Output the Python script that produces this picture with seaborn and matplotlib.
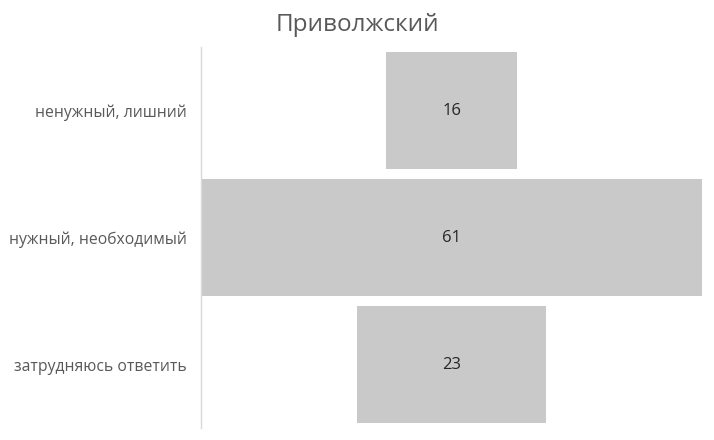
import pandas as pd
import matplotlib.pyplot as plt
import seaborn as sns

# DATA

categories = ["ненужный, лишний", "нужный, необходимый", "затрудняюсь ответить"]
values = [16, 61, 23]
title = "Приволжский"

# CENTERED BARS (funnel style)

total = max(values)
offsets = [(total - v) / 2 for v in values]

df = pd.DataFrame({
    "Category": categories,
    "Value": values
})

sns.set_theme(style="white")
plt.rcParams["font.family"] = ["Open Sans", "DejaVu Sans"]

fig = plt.figure(figsize=(7.14, 4.40), dpi=100)
ax = fig.add_axes([0.2815, 0.027, 0.702, 0.866])

sns.barplot(
    data=df,
    x="Value",
    y="Category",
    orient="y",
    order=categories,
    color="#c9c9c9",
    saturation=1,
    width=0.925,
    left=offsets,
    linewidth=0,
    ax=ax
)

for i, (v, off) in enumerate(zip(values, offsets)):
    ax.text(
        off + v / 2,
        i,
        str(v),
        ha="center",
        va="center",
        fontsize=12,
        color="#262626"
    )

ax.set_xlim(0, total)
ax.set_ylim(2.5, -0.5)
ax.set_xlabel("")
ax.set_ylabel("")
ax.set_xticks([])
ax.tick_params(axis="y", length=0, pad=10, labelsize=11.3, labelcolor="#595959")

for side in ["top", "right", "bottom"]:
    ax.spines[side].set_visible(False)
ax.spines["left"].set_color("#d9d9d9")
ax.spines["left"].set_linewidth(1)

fig.suptitle(title, x=0.5, y=0.97, fontsize=17.5, color="#595959", va="top")

fig.savefig("out.png", dpi=100)
plt.close()
